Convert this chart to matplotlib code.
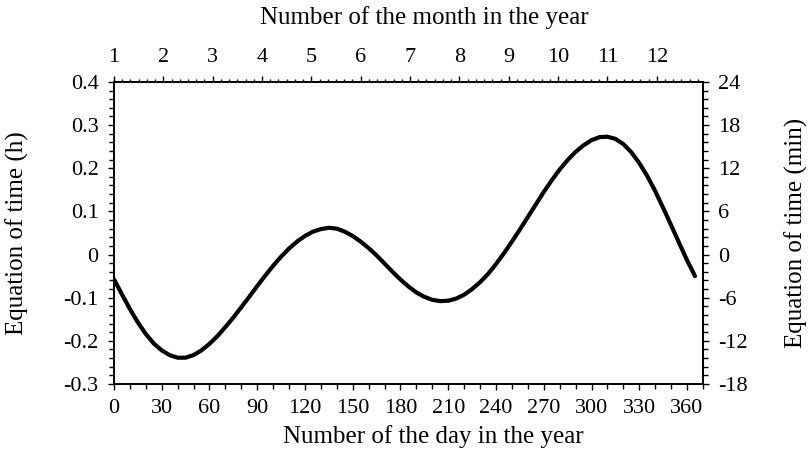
import numpy as np
import matplotlib.pyplot as plt
from matplotlib.ticker import MultipleLocator

plt.rcParams['font.family'] = ['Liberation Serif', 'DejaVu Serif']
plt.rcParams['axes.unicode_minus'] = False

# equation of time in hours, every 5 days through the year
days = list(range(0, 365, 5)) + [365]
eot_h = [
    -0.057, -0.092, -0.126, -0.157, -0.184, -0.206, -0.222, -0.233, -0.239, -0.239,
    -0.233, -0.222, -0.207, -0.189, -0.168, -0.146, -0.122, -0.098, -0.073, -0.049,
    -0.026, -0.005, 0.014, 0.030, 0.043, 0.053, 0.059, 0.062, 0.060, 0.053,
    0.043, 0.030, 0.015, -0.002, -0.021, -0.040, -0.058, -0.074, -0.088, -0.098,
    -0.105, -0.108, -0.107, -0.102, -0.093, -0.080, -0.064, -0.045, -0.022, 0.003,
    0.030, 0.058, 0.087, 0.116, 0.145, 0.172, 0.197, 0.219, 0.238, 0.253,
    0.265, 0.272, 0.273, 0.268, 0.256, 0.237, 0.212, 0.182, 0.147, 0.108,
    0.068, 0.027, -0.013, -0.050,
]

day_ticks = list(range(0, 361, 30))
hour_ticks = [-0.3, -0.2, -0.1, 0.0, 0.1, 0.2, 0.3, 0.4]
hour_labels = ['-0.3', '-0.2', '-0.1', '0', '0.1', '0.2', '0.3', '0.4']
month_ticks = list(range(1, 13))
days_per_month = 31.0
hour_lim = (-0.3, 0.4)
min_lim = (-18, 24)
day_lim = (0, 370)

fig = plt.figure(figsize=(8.08, 4.55), dpi=100)
ax = fig.add_axes([0.141, 0.156, 0.729, 0.664])

ax.plot(days, eot_h, color='black', linewidth=3.0, solid_capstyle='round',
        solid_joinstyle='round')
ax.set_xlim(*day_lim)
ax.set_ylim(*hour_lim)
ax.set_xticks(day_ticks)
ax.xaxis.set_minor_locator(MultipleLocator(10))
ax.set_yticks(hour_ticks)
ax.set_yticklabels(hour_labels)
ax.yaxis.set_minor_locator(MultipleLocator(0.02))

ax.set_xlabel('Number of the day in the year', fontsize=18)
ax.set_ylabel('Equation of time (h)', fontsize=18)
ax.xaxis.set_label_coords(0.543, -0.135)
ax.yaxis.set_label_coords(-0.145, 0.5)

# right axis: same quantity in minutes
axr = ax.twinx()
axr.set_ylim(*min_lim)
axr.yaxis.set_major_locator(MultipleLocator(6))
axr.yaxis.set_minor_locator(MultipleLocator(1.2))
axr.set_ylabel('Equation of time (min)', fontsize=18, rotation=90)
axr.yaxis.set_label_coords(1.138, 0.5)

# top axis: months
axt = ax.twiny()
axt.set_xlim(1, 1 + day_lim[1] / days_per_month)
axt.set_xticks(month_ticks)
axt.xaxis.set_minor_locator(MultipleLocator(1 / 6))
axt.set_xlabel('Number of the month in the year', fontsize=18)
axt.xaxis.set_label_coords(0.527, 1.19)

for a in (ax, axr, axt):
    for s in a.spines.values():
        s.set_linewidth(1.1)
    a.tick_params(which='major', direction='out', length=4, width=1.0,
                  labelsize=16, pad=7)
    a.tick_params(which='minor', direction='out', length=3.5, width=1.0)
axt.tick_params(which='minor', length=2.5)

fig.savefig('out.png', dpi=100)
